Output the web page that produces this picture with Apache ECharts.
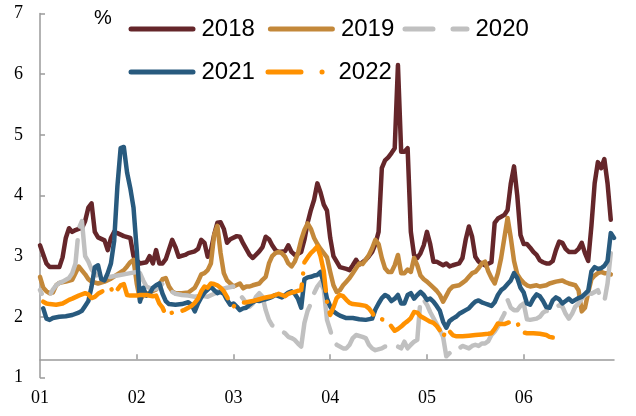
<!DOCTYPE html>
<html>
<head>
<meta charset="utf-8">
<script src="https://cdn.jsdelivr.net/npm/echarts@6/dist/echarts.min.js"></script>
<style>html,body{margin:0;padding:0;background:#fff;}#c{width:636px;height:416px;}</style>
</head>
<body>
<div id="c"></div>
<script>
// x = trading-day position within the half year (30 units per month), y = rate in %
const monthLabels = ['01', '02', '03', '04', '05', '06'];
const monthTicks = [0, 30, 60, 90, 120, 150];
const yTicks = [1, 2, 3, 4, 5, 6, 7];
const seriesNames = ['2018', '2019', '2020', '2021', '2022'];

const s2018 = [[0,3.18],[2,2.88],[3,2.82],[6,2.82],[7,2.98],[8,3.30],[9,3.46],[10,3.40],[11,3.43],[12,3.45],[13,3.46],[14,3.58],[15,3.80],[16,3.87],[17,3.40],[18,3.31],[20,3.26],[21,3.10],[22,3.30],[23,3.40],[24,3.38],[26,3.33],[28,3.30],[29,3.00],[30,2.93],
[31,2.88],[33,2.90],[34,3.00],[35,2.88],[36,3.10],[37,2.88],[38,2.88],[39,2.95],[41,3.27],[42,3.15],[43,2.99],[45,3.02],[46,3.05],[48,3.08],[49,3.12],[50,3.27],[51,3.22],[52,2.99],[53,3.10],[54,3.35],[55,3.55],[56,3.56],[57,3.45],[58,3.22],[59,3.28],
[61,3.33],[62,3.32],[63,3.21],[65,3.02],[66,2.97],[68,3.08],[69,3.15],[70,3.32],[71,3.28],[72,3.18],[73,3.10],[74,3.07],[76,3.08],[77,3.18],[78,3.07],[79,3.02],[80,3.04],[81,3.07],[82,3.27],[83,3.55],[84,3.76],[85,3.93],[86,4.20],[87,4.05],[88,3.85],[89,3.75],
[90,3.30],[91,3.00],[93,2.82],[95,2.79],[96,2.77],[97,2.85],[98,2.94],[99,2.86],[100,2.90],[101,2.94],[102,3.00],[103,3.07],[104,3.20],[105,3.40],[106,4.45],[107,4.58],[108,4.63],[109,4.70],[110,4.78],[111,6.15],[112,4.72],[113,4.72],[114,4.78],[115,3.40],[116,3.02],[117,2.97],[118,3.05],[119,3.18],
[120,3.40],[121,3.20],[122,2.91],[123,2.91],[124,2.88],[125,2.85],[126,2.88],[127,2.83],[128,2.85],[130,2.88],[131,2.97],[132,3.27],[133,3.49],[134,3.32],[135,2.99],[136,2.91],[138,2.85],[140,2.90],[141,3.55],[142,3.62],[143,3.65],[144,3.68],[145,3.76],[146,4.20],[147,4.48],[148,4.00],[149,3.35],
[150,3.20],[151,3.20],[152,3.14],[153,3.07],[154,3.02],[155,2.93],[156,2.90],[157,2.88],[158,2.88],[159,2.92],[160,3.10],[161,3.24],[162,3.22],[163,3.12],[164,3.07],[166,3.07],[167,3.12],[168,3.22],[169,3.05],[170,2.92],[171,3.50],[172,4.20],[173,4.55],[174,4.45],[175,4.60],[176,4.20],[177,3.60]];

const s2019 = [[0,2.66],[1,2.48],[2,2.42],[3,2.39],[4,2.40],[5,2.52],[6,2.56],[8,2.58],[10,2.61],[11,2.72],[12,2.83],[14,2.70],[15,2.62],[16,2.58],[18,2.55],[20,2.58],[22,2.63],[24,2.70],[26,2.77],[27,2.83],[28,2.90],[29,2.94],[30,2.55],
[31,2.28],[32,2.35],[34,2.40],[36,2.45],[38,2.62],[39,2.64],[40,2.50],[41,2.42],[42,2.39],[44,2.39],[46,2.40],[48,2.48],[49,2.58],[50,2.70],[51,2.72],[52,2.77],[53,2.88],[54,3.35],[55,3.50],[56,3.05],[57,2.72],[58,2.60],[59,2.55],
[60,2.50],[62,2.55],[63,2.47],[64,2.50],[65,2.50],[66,2.52],[68,2.55],[69,2.61],[70,2.66],[71,2.88],[72,3.00],[73,3.05],[74,3.07],[75,3.05],[76,2.99],[77,2.88],[78,2.83],[79,2.91],[80,3.05],[81,3.27],[82,3.43],[83,3.54],[84,3.45],[85,3.30],[86,3.20],[87,3.12],[88,3.05],[89,2.98],
[90,2.74],[91,2.52],[92,2.41],[93,2.44],[94,2.52],[95,2.58],[96,2.64],[97,2.72],[98,2.80],[99,2.88],[100,2.87],[101,2.94],[102,3.02],[103,3.13],[104,3.27],[105,3.20],[106,2.97],[107,2.80],[108,2.74],[109,2.74],[110,2.85],[111,3.02],[112,2.72],[113,2.72],[114,2.78],[115,2.74],[116,2.97],[117,2.85],[118,2.68],[119,2.62],
[120,2.58],[121,2.53],[122,2.48],[123,2.43],[124,2.36],[125,2.25],[126,2.35],[127,2.45],[128,2.50],[130,2.52],[131,2.56],[132,2.60],[133,2.66],[134,2.72],[135,2.74],[136,2.80],[137,2.88],[138,2.91],[139,2.75],[140,2.64],[141,2.55],[142,2.72],[143,2.97],[144,3.30],[145,3.63],[146,3.30],[147,2.92],[148,2.70],[149,2.62],
[150,2.56],[151,2.52],[152,2.50],[154,2.52],[155,2.50],[157,2.52],[158,2.55],[160,2.58],[162,2.60],[163,2.57],[164,2.55],[166,2.52],[167,2.44],[168,2.09],[169,2.15],[170,2.40],[171,2.62],[172,2.68],[173,2.72],[174,2.74],[175,2.72],[176,2.72],[177,2.70]];

const s2020 = [[0,2.44],[1,2.33],[2,2.30],[3,2.35],[4,2.45],[5,2.52],[6,2.56],[7,2.58],[9,2.64],[10,2.72],[11,2.88],[12,3.45],[13,3.58],[14,3.00],[15,2.91],[16,2.78],[18,2.66],[20,2.64],[22,2.66],[24,2.68],[26,2.70],[28,2.72],[30,2.74],
[31,2.72],[32,2.60],[33,2.50],[35,2.45],[37,2.48],[38,2.55],[40,2.44],[42,2.38],[44,2.36],[46,2.35],[48,2.33],[50,2.35],[52,2.33],[54,2.38],[56,2.45],[58,2.48],
[60,2.50],[61,2.42],[62,2.36],[63,2.30],[64,2.22],[65,2.17],[66,2.22],[67,2.33],[68,2.39],[69,2.33],[70,2.11],[71,1.95],[72,1.86],[73,1.84],[74,1.80],[75,1.76],[76,1.73],[77,1.67],[78,1.65],[79,1.62],[80,1.56],[81,1.51],[82,1.90],[83,2.10],[84,2.22],[85,2.39],[86,2.50],[87,2.57],[88,2.45],[89,1.95],
[90,1.78],[91,1.59],[92,1.54],[94,1.48],[95,1.48],[96,1.54],[97,1.65],[98,1.70],[100,1.67],[101,1.65],[102,1.54],[103,1.48],[104,1.45],[106,1.48],[107,1.51],[109,1.51],[110,1.54],[111,1.51],[112,1.48],[113,1.59],[114,1.48],[115,1.54],[116,1.59],[117,1.62],[118,2.30],[119,2.28],
[120,2.20],[121,2.08],[122,1.98],[123,1.88],[124,1.78],[125,1.67],[126,1.35],[127,1.40],[128,1.45],[129,1.50],[130,1.48],[131,1.52],[132,1.50],[133,1.48],[134,1.52],[135,1.54],[136,1.52],[137,1.56],[138,1.56],[139,1.60],[140,1.70],[141,1.76],[142,1.84],[143,1.95],[144,2.05],[145,2.28],[146,2.15],[147,2.11],[148,2.11],[149,2.18],
[150,2.22],[151,1.96],[152,1.95],[154,1.97],[155,2.00],[156,2.07],[157,2.10],[158,2.08],[159,2.13],[160,2.16],[161,2.19],[162,2.17],[163,2.05],[164,1.97],[165,2.05],[166,2.17],[167,2.22],[168,2.30],[169,2.36],[170,2.39],[171,2.38],[172,2.41],[173,2.44],[174,2.30],[175,2.25],[176,2.55],[177,3.05]];

const s2021 = [[1,2.14],[2,1.97],[3,1.95],[4,1.98],[6,2.00],[8,2.01],[10,2.03],[12,2.07],[13,2.10],[14,2.18],[15,2.26],[16,2.50],[17,2.82],[18,2.85],[19,2.62],[20,2.60],[21,2.72],[22,2.88],[23,3.25],[24,4.15],[25,4.78],[26,4.80],[27,4.38],[28,4.12],[29,3.80],[30,3.10],
[31,2.25],[32,2.48],[33,2.35],[34,2.38],[35,2.48],[36,2.52],[37,2.55],[38,2.38],[39,2.26],[40,2.21],[42,2.20],[44,2.21],[46,2.24],[47,2.20],[48,2.09],[49,2.22],[50,2.32],[51,2.40],[52,2.45],[53,2.50],[54,2.44],[55,2.39],[56,2.41],[57,2.38],[58,2.28],[59,2.20],
[60,2.22],[61,2.17],[62,2.11],[63,2.14],[64,2.15],[65,2.20],[66,2.24],[67,2.27],[68,2.26],[69,2.28],[70,2.29],[71,2.31],[72,2.33],[73,2.36],[74,2.34],[75,2.32],[76,2.36],[77,2.40],[78,2.42],[79,2.38],[80,2.30],[81,2.15],[82,2.62],[83,2.65],[84,2.66],[85,2.68],[86,2.69],[87,2.74],[88,2.55],[89,2.30],
[90,2.17],[91,2.09],[92,2.05],[93,2.02],[94,2.00],[95,1.98],[97,1.98],[99,1.96],[101,1.95],[103,1.97],[104,2.12],[105,2.22],[106,2.31],[107,2.36],[108,2.33],[109,2.26],[110,2.30],[111,2.36],[112,2.22],[113,2.22],[114,2.36],[115,2.39],[116,2.30],[117,2.36],[118,2.41],[119,2.36],
[120,2.28],[121,2.30],[122,2.25],[123,2.18],[124,2.10],[125,1.92],[126,1.82],[127,1.93],[128,1.97],[129,2.00],[130,2.05],[131,2.08],[132,2.11],[133,2.14],[134,2.20],[135,2.25],[136,2.27],[137,2.24],[138,2.22],[139,2.20],[140,2.18],[141,2.24],[142,2.36],[143,2.44],[144,2.48],[145,2.54],[146,2.60],[147,2.72],[148,2.64],[149,2.48],
[150,2.40],[151,2.22],[152,2.20],[153,2.30],[154,2.37],[155,2.34],[156,2.26],[157,2.16],[158,2.15],[159,2.27],[160,2.32],[161,2.29],[162,2.22],[163,2.26],[164,2.30],[165,2.25],[166,2.28],[167,2.31],[168,2.33],[169,2.38],[170,2.43],[171,2.75],[172,2.82],[173,2.79],[174,2.80],[175,2.84],[176,2.92],[177,3.38],[178,3.30]];

const s2022 = [[1,2.25],[2,2.22],[3,2.21],[5,2.20],[7,2.22],[8,2.25],[9,2.28],[10,2.30],[12,2.35],[14,2.39],[15,2.37],[16,2.31],[17,2.33],[18,2.38],[19,2.41],[20,2.44],[21,2.48],[22,2.47],[23,2.38],[24,2.45],[25,2.52],[26,2.54],[27,2.36],[28,2.35],[30,2.35],
[31,2.36],[33,2.36],[35,2.34],[36,2.35],[37,2.22],[38,2.15],[39,2.03],[40,2.05],[41,2.07],[42,2.09],[43,2.09],[44,2.10],[45,2.12],[46,2.15],[47,2.18],[48,2.23],[49,2.30],[50,2.42],[51,2.50],[52,2.48],[53,2.55],[54,2.54],[55,2.52],[56,2.48],[57,2.42],[58,2.33],[59,2.22],
[60,2.17],[61,2.22],[62,2.23],[64,2.24],[66,2.26],[68,2.29],[70,2.32],[72,2.34],[73,2.36],[74,2.38],[75,2.36],[76,2.34],[77,2.38],[78,2.40],[79,2.41],[80,2.43],[81,2.44],[82,2.90],[83,2.98],[84,3.05],[85,3.10],[86,3.16],[87,3.00],[88,2.75],[89,2.25],
[90,2.03],[91,2.16],[92,2.31],[93,2.36],[94,2.34],[95,2.28],[96,2.23],[97,2.21],[99,2.20],[101,2.18],[102,2.14],[103,2.07],[104,1.98],[105,1.97],[106,1.96],[107,1.94],[108,1.90],[109,1.84],[110,1.77],[111,1.80],[112,1.84],[113,1.89],[114,1.93],[115,1.98],[116,2.08],[117,2.07],[118,2.01],[119,1.98],
[120,1.95],[121,1.92],[122,1.90],[123,1.85],[124,1.78],[125,1.66],[126,1.80],[127,1.76],[128,1.70],[129,1.68],[131,1.68],[133,1.69],[135,1.70],[137,1.71],[139,1.72],[140,1.73],[141,1.80],[142,1.89],[143,1.88],[144,1.88],[145,1.90],[146,1.92],[147,1.93],[148,1.90],[149,1.80],
[150,1.74],[151,1.73],[153,1.73],[155,1.72],[157,1.70],[158,1.67],[159,1.66]];

const seriesData = [s2018, s2019, s2020, s2021, s2022];
const colors = ['#65262A', '#C3883A', '#C0C0C0', '#285A7E', '#FF9100'];
// dash patterns: long in the plot, shorter in the legend keys
const plotDash = ['solid', 'solid', [64, 14], 'solid', [66, 11, 0.1, 11]];
const legendDash = ['solid', 'solid', [34, 20], 'solid', [33, 21, 0.1, 21]];
const plotDashOffset = [0, 0, 60, 0, 0];

const chart = echarts.init(document.getElementById('c'), null, {renderer: 'canvas'});
const axisGray = '#9a9a9a';

function legendBlock(names, left, top, dash) {
  return {
    data: names, left: left, top: top, padding: 0, itemWidth: 62, itemHeight: 24, itemGap: 13,
    textStyle: {fontFamily: 'Liberation Sans', fontSize: 24, color: '#000', padding: [0, 0, 0, 3.5]},
    lineStyle: {width: 5, type: dash, cap: 'round'}, itemStyle: {opacity: 0}
  };
}

const option = {
  animation: false,
  backgroundColor: '#fff',
  grid: {left: 40, right: 22, top: 13.5, bottom: 38.5, containLabel: false, outerBoundsMode: 'none'},
  legend: [
    legendBlock([seriesNames[0], seriesNames[1]], 128.5, 17, legendDash[0]),
    legendBlock([seriesNames[2]], 402.5, 17, legendDash[2]),
    legendBlock([seriesNames[3]], 128.5, 60, legendDash[3]),
    legendBlock([seriesNames[4]], 265.5, 60, legendDash[4])
  ],
  graphic: [{type: 'text', left: 94, top: 8, style: {text: '%', fontFamily: 'Liberation Sans', fontSize: 20, fill: '#000'}}],
  xAxis: {
    type: 'value', min: 0, max: 178, interval: 30, offset: -18.2,
    axisLine: {show: true, lineStyle: {color: axisGray, width: 1.5}},
    axisTick: {show: true, inside: true, length: 5, customValues: monthTicks.slice(1), lineStyle: {color: axisGray, width: 1.5}},
    axisLabel: {customValues: monthTicks, margin: 30, fontFamily: 'Liberation Serif', fontSize: 18, color: '#000',
      formatter: function (v) { const i = monthTicks.indexOf(v); return i >= 0 ? monthLabels[i] : ''; }},
    splitLine: {show: false}
  },
  yAxis: {
    type: 'value', min: yTicks[0], max: yTicks[yTicks.length - 1], interval: 1,
    axisLine: {show: true, lineStyle: {color: axisGray, width: 1.5}},
    axisTick: {show: true, inside: true, length: 5, lineStyle: {color: axisGray, width: 1.5}},
    axisLabel: {margin: 17, fontFamily: 'Liberation Serif', fontSize: 18, color: '#000'},
    splitLine: {show: false}
  },
  series: seriesNames.map(function (name, i) {
    return {
      name: name, type: 'line', data: seriesData[i], symbol: 'none', showSymbol: false,
      color: colors[i],
      lineStyle: {color: colors[i], width: 4.5, type: plotDash[i], dashOffset: plotDashOffset[i], cap: 'round', join: 'round'},
      z: 2 + i
    };
  })
};
chart.setOption(option);
</script>
</body>
</html>
